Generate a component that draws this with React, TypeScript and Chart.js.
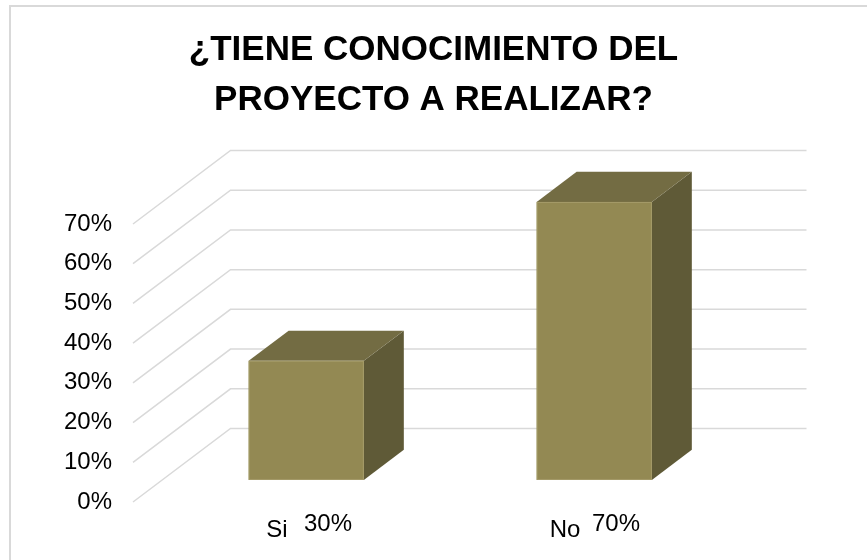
import React, { useEffect, useRef } from "react";
import { Chart, registerables } from "chart.js";

Chart.register(...registerables);

// ---- data ----
const titleLines = ["¿TIENE CONOCIMIENTO DEL", "PROYECTO A REALIZAR?"];
const categories = ["Si", "No"];
const values = [30, 70];
const yMin = 0;
const yMax = 70;
const yStep = 10;

// ---- style ----
const FONT = '"Liberation Sans", Arial, Helvetica, sans-serif';
const DEPTH_X = 97.5;
const DEPTH_Y = 73.5;
const FRONT = 0.3;
const BACK = 0.71;
const COLORS = {
  front: "#938953",
  frontEdge: "#a49b68",
  top: "#736c43",
  side: "#5f5a37",
  grid: "#d9d9d9",
  border: "#d9d9d9",
  text: "#000000",
};

const depthPlugin = {
  id: "depth3d",
  beforeDraw(chart: any) {
    const ctx = chart.ctx;
    ctx.save();
    ctx.strokeStyle = COLORS.border;
    ctx.lineWidth = 2;
    ctx.beginPath();
    ctx.moveTo(10, chart.height + 5);
    ctx.lineTo(10, 6);
    ctx.lineTo(chart.width + 5, 6);
    ctx.stroke();
    ctx.restore();
  },
  beforeDatasetsDraw(chart: any) {
    const ctx = chart.ctx;
    const { left, right } = chart.chartArea;
    const ys = chart.scales.y;
    ctx.save();
    ctx.strokeStyle = COLORS.grid;
    ctx.lineWidth = 1.5;
    ys.ticks.forEach((t: any) => {
      const y = ys.getPixelForValue(t.value);
      ctx.beginPath();
      ctx.moveTo(left, y);
      ctx.lineTo(left + DEPTH_X, y - DEPTH_Y);
      ctx.lineTo(right + DEPTH_X, y - DEPTH_Y);
      ctx.stroke();
    });
    ctx.restore();
  },
  afterDatasetsDraw(chart: any) {
    const ctx = chart.ctx;
    const meta = chart.getDatasetMeta(0);
    const fx = FRONT * DEPTH_X;
    const fy = FRONT * DEPTH_Y;
    const dx = (BACK - FRONT) * DEPTH_X;
    const dy = (BACK - FRONT) * DEPTH_Y;
    ctx.save();
    meta.data.forEach((el: any, i: number) => {
      const p = el.getProps(["x", "y", "base", "width"], true);
      const L = p.x - p.width / 2 + fx;
      const R = p.x + p.width / 2 + fx;
      const T = p.y - fy;
      const B = p.base - fy;
      // side face
      ctx.fillStyle = COLORS.side;
      ctx.beginPath();
      ctx.moveTo(R, T);
      ctx.lineTo(R + dx, T - dy);
      ctx.lineTo(R + dx, B - dy);
      ctx.lineTo(R, B);
      ctx.closePath();
      ctx.fill();
      // top face
      ctx.fillStyle = COLORS.top;
      ctx.beginPath();
      ctx.moveTo(L, T);
      ctx.lineTo(L + dx, T - dy);
      ctx.lineTo(R + dx, T - dy);
      ctx.lineTo(R, T);
      ctx.closePath();
      ctx.fill();
      // front face
      ctx.fillStyle = COLORS.front;
      ctx.fillRect(L, T, R - L, B - T);
      ctx.strokeStyle = COLORS.frontEdge;
      ctx.lineWidth = 1;
      ctx.strokeRect(L + 0.5, T + 0.5, R - L - 1, B - T - 1);

      // value label next to the category label
      ctx.fillStyle = COLORS.text;
      ctx.font = `24px ${FONT}`;
      ctx.textAlign = "left";
      ctx.textBaseline = "middle";
      ctx.fillText(`${values[i]}%`, p.x + 27, chart.chartArea.bottom + 22);
    });
    ctx.restore();
  },
};

export default function App() {
  const ref = useRef<HTMLCanvasElement | null>(null);

  useEffect(() => {
    if (!ref.current) return;
    const chart = new Chart(ref.current, {
      type: "bar",
      data: {
        labels: categories,
        datasets: [
          {
            data: values,
            backgroundColor: "rgba(0,0,0,0)",
            borderWidth: 0,
            categoryPercentage: 0.8,
            barPercentage: 0.5,
          },
        ],
      },
      options: {
        animation: false,
        responsive: true,
        maintainAspectRatio: false,
        layout: { padding: 0 },
        plugins: {
          legend: { display: false },
          tooltip: { enabled: false },
          title: {
            display: true,
            text: titleLines,
            color: COLORS.text,
            font: { family: FONT, size: 35, weight: "bold", lineHeight: "50px" },
            padding: { top: 25, bottom: 99 },
          },
        },
        scales: {
          x: {
            type: "category",
            grid: { display: false, drawTicks: false },
            border: { display: false },
            ticks: {
              color: COLORS.text,
              font: { family: FONT, size: 24 },
              padding: 14,
              maxRotation: 0,
            },
            afterFit: (s: any) => {
              s.height = 58;
            },
          },
          y: {
            type: "linear",
            position: "left",
            min: yMin,
            max: yMax,
            grid: { display: false, drawTicks: false },
            border: { display: false },
            ticks: {
              stepSize: yStep,
              color: COLORS.text,
              font: { family: FONT, size: 24 },
              padding: 21,
              callback: (v: any) => `${v}%`,
            },
            afterFit: (s: any) => {
              s.width = 133;
            },
          },
          yRight: {
            type: "linear",
            position: "right",
            display: true,
            grid: { display: false, drawTicks: false },
            border: { display: false },
            ticks: { display: false },
            afterFit: (s: any) => {
              s.width = 158;
            },
          },
        },
      },
      plugins: [depthPlugin],
    });
    return () => chart.destroy();
  }, []);

  return (
    <div
      style={{
        position: "fixed",
        left: 0,
        top: 0,
        width: 867,
        height: 560,
        background: "#ffffff",
      }}
    >
      <canvas ref={ref} />
    </div>
  );
}
